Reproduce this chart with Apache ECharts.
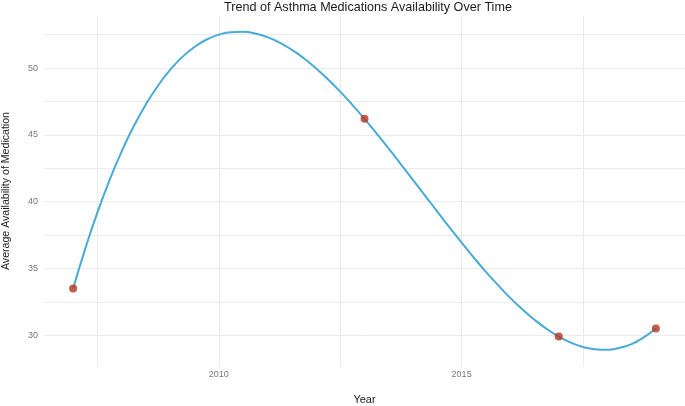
<!DOCTYPE html>
<html>
<head>
    <meta charset="utf-8">
    <title>Asthma medications</title>
    <script type="text/javascript" src="https://cdn.jsdelivr.net/npm/echarts@6/dist/echarts.min.js"></script>
    <style>
        html, body { margin: 0; padding: 0; background: #fff; }
    </style>
</head>
<body>
    <div id="main" style="width: 685px;height:406px;"></div>
    <script type="text/javascript">
    // observed yearly averages (red points)
    var years = [2007, 2013, 2017, 2019];
    var availability = [33.5, 46.2, 29.9, 30.5];

    // fitted trend line, every quarter year
    var curveYears = [2007, 2007.25, 2007.5, 2007.75, 2008, 2008.25, 2008.5, 2008.75,
        2009, 2009.25, 2009.5, 2009.75, 2010, 2010.25, 2010.5, 2010.75,
        2011, 2011.25, 2011.5, 2011.75, 2012, 2012.25, 2012.5, 2012.75,
        2013, 2013.25, 2013.5, 2013.75, 2014, 2014.25, 2014.5, 2014.75,
        2015, 2015.25, 2015.5, 2015.75, 2016, 2016.25, 2016.5, 2016.75,
        2017, 2017.25, 2017.5, 2017.75, 2018, 2018.25, 2018.5, 2018.75, 2019];
    var curveValues = [33.5, 36.49, 39.2, 41.62, 43.77, 45.66, 47.3, 48.7,
        49.88, 50.84, 51.58, 52.14, 52.5, 52.69, 52.72, 52.59,
        52.32, 51.91, 51.38, 50.74, 49.99, 49.15, 48.24, 47.25,
        46.2, 45.1, 43.97, 42.8, 41.62, 40.44, 39.25, 38.08,
        36.93, 35.82, 34.75, 33.75, 32.8, 31.94, 31.16, 30.48,
        29.9, 29.45, 29.12, 28.96, 28.91, 29.06, 29.34, 29.84, 30.5];

    // tick / grid positions
    var xGrid = [2007.5, 2010, 2012.5, 2015, 2017.5];
    var xLabels = [2010, 2015];
    var yGrid = [30, 32.5, 35, 37.5, 40, 42.5, 45, 47.5, 50, 52.5];
    var yLabels = [30, 35, 40, 45, 50];

    var font = 'Liberation Sans';
    var myChart = echarts.init(document.getElementById('main'));

    var option = {
        animation: false,
        textStyle: { fontFamily: font },
        title: {
            text: 'Trend of Asthma Medications Availability Over Time',
            left: 219,
            top: -4,
            textStyle: { fontSize: 12.6, fontWeight: 'normal', color: '#1a1a1a', fontFamily: font }
        },
        grid: { left: 44, right: 0, top: 16, bottom: 40, containLabel: false, outerBoundsMode: 'none' },
        xAxis: {
            type: 'value',
            min: 2006.4,
            max: 2019.6,
            name: 'Year',
            nameLocation: 'middle',
            nameGap: 28,
            nameTextStyle: { fontSize: 11, color: '#222', fontFamily: font },
            axisLine: { show: false },
            axisTick: { show: false, customValues: xGrid },
            axisLabel: {
                customValues: xLabels, fontSize: 9, color: '#777', margin: 4, fontFamily: font,
                formatter: function (v) { return String(v); }
            },
            splitLine: { show: true, lineStyle: { color: '#ebebeb', width: 1 } }
        },
        yAxis: {
            type: 'value',
            min: 27.7,
            max: 53.9,
            name: 'Average Availability of Medication',
            nameLocation: 'middle',
            nameGap: 32,
            nameTextStyle: { fontSize: 10.6, color: '#222', fontFamily: font },
            axisLine: { show: false },
            axisTick: { show: false, customValues: yGrid },
            axisLabel: { customValues: yLabels, fontSize: 9, color: '#777', margin: 6, fontFamily: font },
            splitLine: { show: true, lineStyle: { color: '#ebebeb', width: 1 } }
        },
        series: [
            {
                name: 'trend',
                type: 'line',
                smooth: true,
                showSymbol: false,
                lineStyle: { color: '#47abd5', width: 2 },
                data: curveYears.map(function (y, i) { return [y, curveValues[i]]; })
            },
            {
                name: 'points',
                type: 'scatter',
                symbolSize: 8,
                itemStyle: { color: '#b3361b' },
                z: 5,
                data: years.map(function (y, i) { return [y, availability[i]]; })
            }
        ]
    };
    myChart.setOption(option);
    </script>
</body>
</html>
